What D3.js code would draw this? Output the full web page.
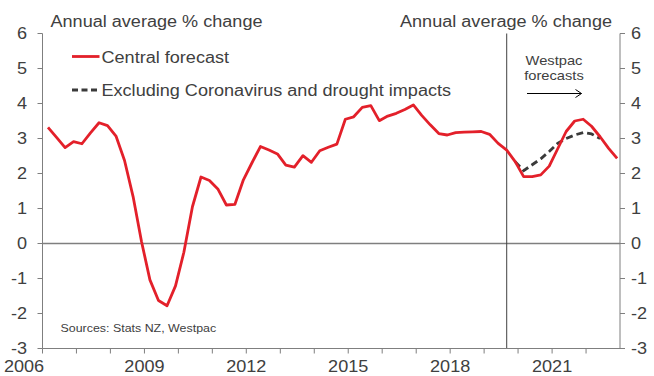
<!DOCTYPE html>
<html><head><meta charset="utf-8">
<script src="https://cdn.jsdelivr.net/npm/d3@7"></script>
<style>body{margin:0;background:#fff}svg{display:block}text{font-family:"Liberation Sans",Arial,sans-serif;fill:#404040}</style>
</head><body><svg id="c" width="654" height="376"></svg>
<script>
const quarters = ["2006-03","2006-06","2006-09","2006-12","2007-03","2007-06","2007-09","2007-12",
"2008-03","2008-06","2008-09","2008-12","2009-03","2009-06","2009-09","2009-12",
"2010-03","2010-06","2010-09","2010-12","2011-03","2011-06","2011-09","2011-12",
"2012-03","2012-06","2012-09","2012-12","2013-03","2013-06","2013-09","2013-12",
"2014-03","2014-06","2014-09","2014-12","2015-03","2015-06","2015-09","2015-12",
"2016-03","2016-06","2016-09","2016-12","2017-03","2017-06","2017-09","2017-12",
"2018-03","2018-06","2018-09","2018-12","2019-03","2019-06","2019-09","2019-12",
"2020-03","2020-06","2020-09","2020-12","2021-03","2021-06","2021-09","2021-12",
"2022-03","2022-06","2022-09","2022-12"];
const central = [3.32,3.03,2.74,2.91,2.85,3.16,3.45,3.37,3.07,2.37,1.34,0.05,
-1.04,-1.63,-1.78,-1.21,-0.25,1.05,1.9,1.8,1.56,1.1,1.12,1.82,
2.3,2.77,2.67,2.56,2.24,2.18,2.51,2.32,2.65,2.75,2.84,3.55,
3.62,3.89,3.94,3.51,3.64,3.72,3.83,3.96,3.66,3.39,3.14,3.1,
3.17,3.18,3.19,3.2,3.12,2.86,2.67,2.34,1.91,1.91,1.96,2.21,
2.7,3.2,3.5,3.55,3.35,3.05,2.72,2.43];
const exclQuarters = ["2019-12","2020-03","2020-06","2020-09","2020-12","2021-03","2021-06","2021-09","2021-12","2022-03","2022-06"];
const excluding = [2.34,2.08,2.25,2.42,2.63,2.86,3.0,3.1,3.17,3.13,3.0];
const yTicks = [-3,-2,-1,0,1,2,3,4,5,6];
const xLabelYears = [2006,2009,2012,2015,2018,2021];
const forecastStart = "2019-09";
const titleText = "Annual average % change";
const legendLabels = ["Central forecast","Excluding Coronavirus and drought impacts"];
const sourceText = "Sources: Stats NZ, Westpac";
const forecastLabel = ["Westpac","forecasts"];

const parse = d3.timeParse("%Y-%m");
const SX = 1.13;
const svg = d3.select("#c");
const x = d3.scaleTime().domain([new Date(2006,0,1), new Date(2023,0,1)]).range([42.5, 620]);
const y = d3.scaleLinear().domain([-3,6]).range([348.5,33.5]);

function txt(g, s, px, py, size, anchor){
  return g.append("text").attr("transform",`translate(${px},${py}) scale(${SX},1)`)
    .attr("text-anchor",anchor||"start").attr("font-size",size).text(s);
}

// zero line
svg.append("line").attr("x1",x.range()[0]).attr("x2",x.range()[1]).attr("y1",y(0)).attr("y2",y(0))
  .attr("stroke","#7f7f7f").attr("stroke-width",1.3);

// forecast divider
svg.append("line").attr("x1",x(parse(forecastStart))).attr("x2",x(parse(forecastStart)))
  .attr("y1",y(6)).attr("y2",y(-3)).attr("stroke","#404040").attr("stroke-width",1);

// left axis
const gl = svg.append("g");
gl.append("line").attr("x1",42.5).attr("x2",42.5).attr("y1",y(6)).attr("y2",y(-3)).attr("stroke","#7f7f7f");
yTicks.forEach(v=>{
  gl.append("line").attr("x1",37.5).attr("x2",42.5).attr("y1",y(v)).attr("y2",y(v)).attr("stroke","#7f7f7f");
  txt(gl, String(v), 27, y(v)+5.8, 16, "end");
});
// right axis
const gr = svg.append("g");
gr.append("line").attr("x1",620).attr("x2",620).attr("y1",y(6)).attr("y2",y(-3)).attr("stroke","#7f7f7f");
yTicks.forEach(v=>{
  gr.append("line").attr("x1",620).attr("x2",625).attr("y1",y(v)).attr("y2",y(v)).attr("stroke","#7f7f7f");
  txt(gr, String(v), 631, y(v)+5.8, 16, "start");
});
// bottom axis
const gb = svg.append("g");
gb.append("line").attr("x1",42.5).attr("x2",620).attr("y1",y(-3)).attr("y2",y(-3)).attr("stroke","#7f7f7f");
x.ticks(d3.timeYear.every(1)).forEach(d=>{
  if (x(d) > 619) return;
  gb.append("line").attr("x1",x(d)).attr("x2",x(d)).attr("y1",y(-3)).attr("y2",y(-3)+5).attr("stroke","#7f7f7f");
});
xLabelYears.forEach((yr,i)=>{
  const px = x(new Date(yr,0,1));
  txt(gb, String(yr), i === 0 ? 24 : px, 372, 16, "middle");
});

// lines
const line = d3.line().x(d=>x(d[0])).y(d=>y(d[1]));
svg.append("path").datum(exclQuarters.map((q,i)=>[parse(q),excluding[i]]))
  .attr("d",line).attr("fill","none").attr("stroke","#3a3a3a").attr("stroke-width",2.8)
  .attr("stroke-dasharray","7,4");
svg.append("path").datum(quarters.map((q,i)=>[parse(q),central[i]]))
  .attr("d",line).attr("fill","none").attr("stroke","#e3202a").attr("stroke-width",2.8)
  .attr("stroke-linejoin","round");

// titles
txt(svg, titleText, 50.5, 27, 16, "start");
txt(svg, titleText, 612, 27, 16, "end");

// legend
svg.append("line").attr("x1",72).attr("x2",99.5).attr("y1",56.5).attr("y2",56.5).attr("stroke","#e3202a").attr("stroke-width",2.8);
txt(svg, legendLabels[0], 101.5, 62.5, 16, "start");
svg.append("line").attr("x1",72).attr("x2",99.5).attr("y1",90).attr("y2",90).attr("stroke","#3a3a3a").attr("stroke-width",2.8).attr("stroke-dasharray","6,3.5");
txt(svg, legendLabels[1], 101.5, 96, 16, "start");

// forecast annotation
txt(svg, forecastLabel[0], 554, 64.5, 13, "middle");
txt(svg, forecastLabel[1], 554, 80, 13, "middle");
svg.append("line").attr("x1",527).attr("x2",581.5).attr("y1",93.5).attr("y2",93.5).attr("stroke","#000").attr("stroke-width",1);
svg.append("path").attr("d","M575.5,89.5 L581.5,93.5 L575.5,97.5").attr("fill","none").attr("stroke","#000").attr("stroke-width",1);

// source
txt(svg, sourceText, 60.5, 332, 11, "start");
</script></body></html>
